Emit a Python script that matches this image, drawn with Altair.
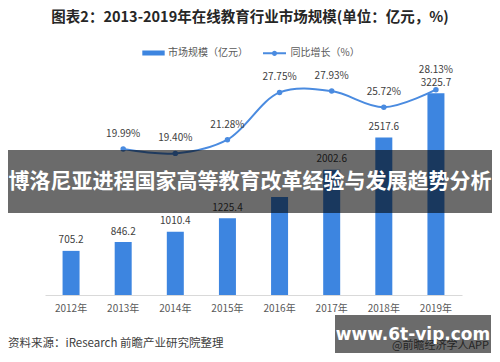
import altair as alt
import pandas as pd

years = ["2012年", "2013年", "2014年", "2015年", "2016年", "2017年", "2018年", "2019年"]
market = [705.2, 846.2, 1010.4, 1225.4, 1565.5, 2002.6, 2517.6, 3225.7]
market_labels = ["705.2", "846.2", "1010.4", "1225.4", "", "2002.6", "2517.6", "3225.7"]
growth_years = ["2013年", "2014年", "2015年", "2016年", "2017年", "2018年", "2019年"]
growth = [19.99, 19.40, 21.28, 27.75, 27.93, 25.72, 28.13]

left_ticks = [0, 500, 1000, 1500, 2000, 2500, 3000, 3500]
right_ticks = [0, 0.05, 0.10, 0.15, 0.20, 0.25, 0.30]

TITLE = "图表2：2013-2019年在线教育行业市场规模(单位：亿元，%)"
LEG_BAR = "市场规模（亿元）"
LEG_LINE = "同比增长（%）"
SOURCE = "资料来源：iResearch 前瞻产业研究院整理"
BANNER = "博洛尼亚进程国家高等教育改革经验与发展趋势分析"
SITE = "www.6t-vip.com"
APP = "@前瞻经济学人APP"

FONT = "Noto Sans CJK SC"
BAR_C = "#3d85e0"
LINE_C = "#4a8be0"

bar_df = pd.DataFrame({"year": years, "value": market, "label": market_labels, "s": LEG_BAR})
line_df = pd.DataFrame({"year": growth_years, "pct": [g / 100 for g in growth],
                        "label": [f"{g:.2f}%" for g in growth], "s": LEG_LINE})

xenc = alt.X("year:N", sort=years, scale=alt.Scale(domain=years, paddingInner=0.67),
             axis=alt.Axis(title=None, labelAngle=0, ticks=False, domainColor="#d9d9d9",
                           labelColor="#595959", labelFontSize=10, labelFont=FONT,
                           labelPadding=8, grid=False))

yleft = alt.Scale(domain=[0, 3500], nice=False)
yright = alt.Scale(domain=[0, 0.30], nice=False)

bars = alt.Chart(bar_df).mark_bar(size=17).encode(
    x=xenc,
    y=alt.Y("value:Q", scale=yleft,
            axis=alt.Axis(title=None, values=left_ticks, grid=False, domain=False, ticks=False,
                          labelColor="#595959", labelFontSize=10, labelFont=FONT, labelPadding=10)),
    color=alt.Color("s:N", scale=alt.Scale(domain=[LEG_BAR], range=[BAR_C]),
                    legend=alt.Legend(orient="none", legendX=101, legendY=-30.5, title=None,
                                      symbolType="M-1.6,-0.25H1.6V0.25H-1.6Z", symbolSize=170,
                                      symbolFillColor=BAR_C, symbolStrokeColor=BAR_C,
                                      labelFont=FONT, labelFontSize=10, labelColor="#595959",
                                      labelOffset=7)),
)
bar_text = alt.Chart(bar_df).mark_text(dy=-10.5, baseline="middle", fontSize=10, font=FONT,
                                       color="#404040").encode(
    x=alt.X("year:N", sort=years), y=alt.Y("value:Q", scale=yleft, axis=None), text="label:N")

left = alt.layer(bars, bar_text)

line = alt.Chart(line_df).mark_line(interpolate="catmull-rom", strokeWidth=2).encode(
    x=alt.X("year:N", sort=years),
    y=alt.Y("pct:Q", scale=yright,
            axis=alt.Axis(title=None, orient="right", values=right_ticks, format=".0%", grid=False,
                          domain=False, ticks=False, labelColor="#595959", labelFontSize=10,
                          labelFont=FONT, labelPadding=10)),
    color=alt.Color("s:N", scale=alt.Scale(domain=[LEG_LINE], range=[LINE_C]),
                    legend=alt.Legend(orient="none", legendX=221, legendY=-31.2, title=None,
                                      symbolType="M-1.6,0H1.6M-0.22,0A0.22,0.22,0,1,1,0.22,0A0.22,0.22,0,1,1,-0.22,0Z",
                                      symbolSize=207, symbolStrokeWidth=2, symbolFillColor=LINE_C,
                                      labelFont=FONT, labelFontSize=10, labelColor="#595959",
                                      labelOffset=7.6)),
)
points = alt.Chart(line_df).mark_circle(size=30, opacity=1, color=LINE_C).encode(
    x=alt.X("year:N", sort=years), y=alt.Y("pct:Q", scale=yright, axis=None))
pct_text = alt.Chart(line_df).transform_filter(alt.datum.year != "2019年").mark_text(
    dy=-15, baseline="middle", fontSize=10, font=FONT, color="#404040").encode(
    x=alt.X("year:N", sort=years), y=alt.Y("pct:Q", scale=yright, axis=None), text="label:N")
pct_text_last = alt.Chart(line_df).transform_filter(alt.datum.year == "2019年").mark_text(
    dy=-20, baseline="middle", fontSize=10, font=FONT, color="#404040").encode(
    x=alt.X("year:N", sort=years), y=alt.Y("pct:Q", scale=yright, axis=None), text="label:N")

right = alt.layer(line, points, pct_text, pct_text_last)

one = pd.DataFrame({"t": [0]})

title = alt.Chart(pd.DataFrame({"t": [TITLE]})).mark_text(
    fontSize=14.5, fontWeight="bold", font=FONT, color="#262626", baseline="middle", align="center"
).encode(text="t:N", x=alt.value(205), y=alt.value(-58))

source = alt.Chart(pd.DataFrame({"t": [SOURCE]})).mark_text(
    fontSize=11.5, font=FONT, color="#404040", baseline="middle", align="left"
).encode(text="t:N", x=alt.value(-37), y=alt.value(268))

app = alt.Chart(pd.DataFrame({"t": [APP]})).mark_text(
    fontSize=11, font=FONT, color="#595959", baseline="middle", align="left"
).encode(text="t:N", x=alt.value(347), y=alt.value(270))

banner = alt.Chart(one).mark_rect(color="black", opacity=0.58).encode(
    x=alt.value(-37), x2=alt.value(447), y=alt.value(74), y2=alt.value(137))
banner_text = alt.Chart(pd.DataFrame({"t": [BANNER]})).mark_text(
    fontSize=21, fontWeight="bold", font=FONT, color="white", baseline="middle", align="center"
).encode(text="t:N", x=alt.value(205), y=alt.value(106))

box = alt.Chart(one).mark_rect(color="black", opacity=0.58).encode(
    x=alt.value(290), x2=alt.value(446), y=alt.value(239), y2=alt.value(277))
box_text = alt.Chart(pd.DataFrame({"t": [SITE]})).mark_text(
    fontSize=17, fontWeight="bold", font="DejaVu Sans", color="white", baseline="middle", align="center"
).encode(text="t:N", x=alt.value(368), y=alt.value(259))

chart = alt.layer(left, right, title, source, app, banner, banner_text, box, box_text).resolve_scale(
    y="independent", color="independent"
).resolve_legend(color="independent").properties(
    width=417, height=219,
    autosize=alt.AutoSizeParams(type="none"),
    padding={"left": 37, "top": 68, "right": 30, "bottom": 59},
    background="white",
).configure_view(stroke=None)

chart.save("out.html", embed_options={"renderer": "svg", "actions": False})
